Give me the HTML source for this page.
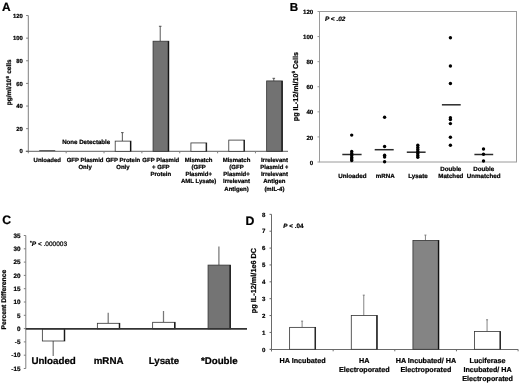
<!DOCTYPE html>
<html><head><meta charset="utf-8"><style>
html,body{margin:0;padding:0;background:#fff;width:520px;height:383px;overflow:hidden}
svg{display:block;will-change:transform;filter:blur(0.35px)}
text{font-family:"Liberation Sans", sans-serif;stroke:#000;stroke-width:0.22px;paint-order:stroke;text-rendering:geometricPrecision}
</style></head><body>
<svg width="520" height="383" viewBox="0 0 520 383">
<defs><clipPath id="clipA"><rect x="0" y="0" width="288.3" height="200"/></clipPath></defs>
<rect width="520" height="383" fill="#fff"/>
<g clip-path="url(#clipA)">
<text x="1.90" y="10.80" font-size="11.9" text-anchor="start" font-weight="bold" font-style="normal" fill="#000" >A</text>
<line x1="28.30" y1="15.52" x2="28.30" y2="153.30" stroke="#7f7f7f" stroke-width="1"/>
<line x1="26.10" y1="151.30" x2="28.30" y2="151.30" stroke="#7f7f7f" stroke-width="1"/>
<text x="22.90" y="153.40" font-size="5.9" text-anchor="end" font-weight="bold" font-style="normal" fill="#000" >0</text>
<line x1="26.10" y1="128.67" x2="28.30" y2="128.67" stroke="#7f7f7f" stroke-width="1"/>
<text x="22.90" y="130.77" font-size="5.9" text-anchor="end" font-weight="bold" font-style="normal" fill="#000" >20</text>
<line x1="26.10" y1="106.04" x2="28.30" y2="106.04" stroke="#7f7f7f" stroke-width="1"/>
<text x="22.90" y="108.14" font-size="5.9" text-anchor="end" font-weight="bold" font-style="normal" fill="#000" >40</text>
<line x1="26.10" y1="83.41" x2="28.30" y2="83.41" stroke="#7f7f7f" stroke-width="1"/>
<text x="22.90" y="85.51" font-size="5.9" text-anchor="end" font-weight="bold" font-style="normal" fill="#000" >60</text>
<line x1="26.10" y1="60.78" x2="28.30" y2="60.78" stroke="#7f7f7f" stroke-width="1"/>
<text x="22.90" y="62.88" font-size="5.9" text-anchor="end" font-weight="bold" font-style="normal" fill="#000" >80</text>
<line x1="26.10" y1="38.15" x2="28.30" y2="38.15" stroke="#7f7f7f" stroke-width="1"/>
<text x="22.90" y="40.25" font-size="5.9" text-anchor="end" font-weight="bold" font-style="normal" fill="#000" >100</text>
<line x1="26.10" y1="15.52" x2="28.30" y2="15.52" stroke="#7f7f7f" stroke-width="1"/>
<text x="22.90" y="17.62" font-size="5.9" text-anchor="end" font-weight="bold" font-style="normal" fill="#000" >120</text>
<line x1="25.80" y1="151.30" x2="288.00" y2="151.30" stroke="#606060" stroke-width="1"/>
<line x1="66.16" y1="151.30" x2="66.16" y2="153.30" stroke="#7f7f7f" stroke-width="1"/>
<line x1="104.02" y1="151.30" x2="104.02" y2="153.30" stroke="#7f7f7f" stroke-width="1"/>
<line x1="141.88" y1="151.30" x2="141.88" y2="153.30" stroke="#7f7f7f" stroke-width="1"/>
<line x1="179.74" y1="151.30" x2="179.74" y2="153.30" stroke="#7f7f7f" stroke-width="1"/>
<line x1="217.60" y1="151.30" x2="217.60" y2="153.30" stroke="#7f7f7f" stroke-width="1"/>
<line x1="255.46" y1="151.30" x2="255.46" y2="153.30" stroke="#7f7f7f" stroke-width="1"/>
<line x1="122.35" y1="141.12" x2="122.35" y2="132.63" stroke="#444" stroke-width="0.9"/>
<line x1="121.05" y1="132.63" x2="123.65" y2="132.63" stroke="#444" stroke-width="0.9"/>
<rect x="115.20" y="141.12" width="15.80" height="10.18" fill="#fff" stroke="#333" stroke-width="0.8"/>
<line x1="130.50" y1="141.12" x2="130.50" y2="151.30" stroke="#111" stroke-width="1.15"/>
<line x1="160.21" y1="41.21" x2="160.21" y2="26.27" stroke="#444" stroke-width="0.9"/>
<line x1="158.91" y1="26.27" x2="161.51" y2="26.27" stroke="#444" stroke-width="0.9"/>
<rect x="153.06" y="41.21" width="15.80" height="110.09" fill="#727272" stroke="#333" stroke-width="0.8"/>
<line x1="168.36" y1="41.21" x2="168.36" y2="151.30" stroke="#111" stroke-width="1.15"/>
<rect x="190.92" y="142.93" width="15.80" height="8.37" fill="#fff" stroke="#333" stroke-width="0.8"/>
<line x1="206.22" y1="142.93" x2="206.22" y2="151.30" stroke="#111" stroke-width="1.15"/>
<rect x="228.78" y="140.10" width="15.80" height="11.20" fill="#fff" stroke="#333" stroke-width="0.8"/>
<line x1="244.08" y1="140.10" x2="244.08" y2="151.30" stroke="#111" stroke-width="1.15"/>
<line x1="273.79" y1="80.92" x2="273.79" y2="78.32" stroke="#444" stroke-width="0.9"/>
<line x1="272.49" y1="78.32" x2="275.09" y2="78.32" stroke="#444" stroke-width="0.9"/>
<rect x="266.64" y="80.92" width="15.80" height="70.38" fill="#727272" stroke="#333" stroke-width="0.8"/>
<line x1="281.94" y1="80.92" x2="281.94" y2="151.30" stroke="#111" stroke-width="1.15"/>
<text x="86.20" y="143.60" font-size="6.15" text-anchor="middle" font-weight="bold" font-style="normal" fill="#000" >None Detectable</text>
<line x1="39.23" y1="150.60" x2="55.23" y2="150.60" stroke="#444" stroke-width="0.9"/>
<text transform="translate(11.1,82.3) rotate(-90)" font-size="6.5" text-anchor="middle" font-weight="bold">pg/ml/10<tspan dy="-2.6" dx="0.3" font-size="4.4">6</tspan><tspan dy="2.6" dx="0.5"> cells</tspan></text>
<text x="47.23" y="161.50" font-size="6.0" text-anchor="middle" font-weight="bold" font-style="normal" fill="#000" >Unloaded</text>
<text x="85.09" y="161.50" font-size="6.0" text-anchor="middle" font-weight="bold" font-style="normal" fill="#000" >GFP Plasmid</text>
<text x="85.09" y="168.83" font-size="6.0" text-anchor="middle" font-weight="bold" font-style="normal" fill="#000" >Only</text>
<text x="122.95" y="161.50" font-size="6.0" text-anchor="middle" font-weight="bold" font-style="normal" fill="#000" >GFP Protein</text>
<text x="122.95" y="168.83" font-size="6.0" text-anchor="middle" font-weight="bold" font-style="normal" fill="#000" >Only</text>
<text x="160.81" y="161.50" font-size="6.0" text-anchor="middle" font-weight="bold" font-style="normal" fill="#000" >GFP Plasmid</text>
<text x="160.81" y="168.83" font-size="6.0" text-anchor="middle" font-weight="bold" font-style="normal" fill="#000" >+ GFP</text>
<text x="160.81" y="176.16" font-size="6.0" text-anchor="middle" font-weight="bold" font-style="normal" fill="#000" >Protein</text>
<text x="198.67" y="161.50" font-size="6.0" text-anchor="middle" font-weight="bold" font-style="normal" fill="#000" >Mismatch</text>
<text x="198.67" y="168.83" font-size="6.0" text-anchor="middle" font-weight="bold" font-style="normal" fill="#000" >(GFP</text>
<text x="198.67" y="176.16" font-size="6.0" text-anchor="middle" font-weight="bold" font-style="normal" fill="#000" >Plasmid+</text>
<text x="198.67" y="183.49" font-size="6.0" text-anchor="middle" font-weight="bold" font-style="normal" fill="#000" >AML Lysate)</text>
<text x="236.53" y="161.50" font-size="6.0" text-anchor="middle" font-weight="bold" font-style="normal" fill="#000" >Mismatch</text>
<text x="236.53" y="168.83" font-size="6.0" text-anchor="middle" font-weight="bold" font-style="normal" fill="#000" >(GFP</text>
<text x="236.53" y="176.16" font-size="6.0" text-anchor="middle" font-weight="bold" font-style="normal" fill="#000" >Plasmid+</text>
<text x="236.53" y="183.49" font-size="6.0" text-anchor="middle" font-weight="bold" font-style="normal" fill="#000" >Irrelevant</text>
<text x="236.53" y="190.82" font-size="6.0" text-anchor="middle" font-weight="bold" font-style="normal" fill="#000" >Antigen)</text>
<text x="274.39" y="161.50" font-size="6.0" text-anchor="middle" font-weight="bold" font-style="normal" fill="#000" >Irrelevant</text>
<text x="274.39" y="168.83" font-size="6.0" text-anchor="middle" font-weight="bold" font-style="normal" fill="#000" >Plasmid +</text>
<text x="274.39" y="176.16" font-size="6.0" text-anchor="middle" font-weight="bold" font-style="normal" fill="#000" >Irrelevant</text>
<text x="274.39" y="183.49" font-size="6.0" text-anchor="middle" font-weight="bold" font-style="normal" fill="#000" >Antigen</text>
<text x="274.39" y="190.82" font-size="6.0" text-anchor="middle" font-weight="bold" font-style="normal" fill="#000" >(mIL-4)</text>
</g>
<text x="289.80" y="10.90" font-size="11.6" text-anchor="start" font-weight="bold" font-style="normal" fill="#000" >B</text>
<rect x="319.5" y="11.5" width="197.0" height="150.5" fill="none" stroke="#9a9a9a" stroke-width="1"/>
<line x1="317.50" y1="162.00" x2="319.50" y2="162.00" stroke="#9a9a9a" stroke-width="1"/>
<text x="313.20" y="164.60" font-size="6.1" text-anchor="end" font-weight="bold" font-style="normal" fill="#000" >0</text>
<line x1="317.50" y1="136.92" x2="319.50" y2="136.92" stroke="#9a9a9a" stroke-width="1"/>
<text x="313.20" y="139.52" font-size="6.1" text-anchor="end" font-weight="bold" font-style="normal" fill="#000" >20</text>
<line x1="317.50" y1="111.83" x2="319.50" y2="111.83" stroke="#9a9a9a" stroke-width="1"/>
<text x="313.20" y="114.43" font-size="6.1" text-anchor="end" font-weight="bold" font-style="normal" fill="#000" >40</text>
<line x1="317.50" y1="86.75" x2="319.50" y2="86.75" stroke="#9a9a9a" stroke-width="1"/>
<text x="313.20" y="89.35" font-size="6.1" text-anchor="end" font-weight="bold" font-style="normal" fill="#000" >60</text>
<line x1="317.50" y1="61.67" x2="319.50" y2="61.67" stroke="#9a9a9a" stroke-width="1"/>
<text x="313.20" y="64.27" font-size="6.1" text-anchor="end" font-weight="bold" font-style="normal" fill="#000" >80</text>
<line x1="317.50" y1="36.58" x2="319.50" y2="36.58" stroke="#9a9a9a" stroke-width="1"/>
<text x="313.20" y="39.18" font-size="6.1" text-anchor="end" font-weight="bold" font-style="normal" fill="#000" >100</text>
<line x1="317.50" y1="11.50" x2="319.50" y2="11.50" stroke="#9a9a9a" stroke-width="1"/>
<text x="313.20" y="14.10" font-size="6.1" text-anchor="end" font-weight="bold" font-style="normal" fill="#000" >120</text>
<text x="325.00" y="21.30" font-size="6.45" text-anchor="start" font-weight="bold" font-style="italic" fill="#000" ><tspan font-style="italic">P</tspan> &lt; .02</text>
<line x1="342.30" y1="154.50" x2="361.60" y2="154.50" stroke="#2a2a2a" stroke-width="1.5"/>
<circle cx="351.70" cy="135.10" r="1.7" fill="#000"/>
<circle cx="351.70" cy="151.50" r="1.7" fill="#000"/>
<circle cx="351.70" cy="153.50" r="1.7" fill="#000"/>
<circle cx="351.70" cy="155.50" r="1.7" fill="#000"/>
<circle cx="351.70" cy="157.50" r="1.7" fill="#000"/>
<circle cx="351.70" cy="159.00" r="1.7" fill="#000"/>
<circle cx="351.70" cy="160.50" r="1.7" fill="#000"/>
<line x1="374.70" y1="149.70" x2="393.70" y2="149.70" stroke="#2a2a2a" stroke-width="1.5"/>
<circle cx="384.60" cy="117.20" r="1.7" fill="#000"/>
<circle cx="384.60" cy="146.50" r="1.7" fill="#000"/>
<circle cx="384.60" cy="155.20" r="1.7" fill="#000"/>
<circle cx="384.60" cy="157.00" r="1.7" fill="#000"/>
<circle cx="384.60" cy="161.70" r="1.7" fill="#000"/>
<line x1="406.80" y1="152.20" x2="425.60" y2="152.20" stroke="#2a2a2a" stroke-width="1.5"/>
<circle cx="417.80" cy="145.30" r="1.7" fill="#000"/>
<circle cx="417.80" cy="147.50" r="1.7" fill="#000"/>
<circle cx="417.80" cy="149.50" r="1.7" fill="#000"/>
<circle cx="417.80" cy="151.50" r="1.7" fill="#000"/>
<circle cx="417.80" cy="153.50" r="1.7" fill="#000"/>
<circle cx="417.80" cy="155.50" r="1.7" fill="#000"/>
<circle cx="417.80" cy="157.30" r="1.7" fill="#000"/>
<line x1="441.90" y1="104.80" x2="460.70" y2="104.80" stroke="#2a2a2a" stroke-width="1.5"/>
<circle cx="450.40" cy="37.80" r="1.7" fill="#000"/>
<circle cx="450.40" cy="66.00" r="1.7" fill="#000"/>
<circle cx="450.40" cy="83.50" r="1.7" fill="#000"/>
<circle cx="450.40" cy="117.80" r="1.7" fill="#000"/>
<circle cx="450.40" cy="119.60" r="1.7" fill="#000"/>
<circle cx="450.40" cy="123.60" r="1.7" fill="#000"/>
<circle cx="450.40" cy="137.30" r="1.7" fill="#000"/>
<circle cx="450.40" cy="145.20" r="1.7" fill="#000"/>
<line x1="474.40" y1="154.50" x2="493.20" y2="154.50" stroke="#2a2a2a" stroke-width="1.5"/>
<circle cx="483.50" cy="149.00" r="1.7" fill="#000"/>
<circle cx="483.50" cy="154.30" r="1.7" fill="#000"/>
<circle cx="483.50" cy="161.00" r="1.7" fill="#000"/>
<text x="352.33" y="177.50" font-size="6.2" text-anchor="middle" font-weight="bold" font-style="normal" fill="#000" >Unloaded</text>
<text x="385.17" y="177.50" font-size="6.2" text-anchor="middle" font-weight="bold" font-style="normal" fill="#000" >mRNA</text>
<text x="418.00" y="177.50" font-size="6.2" text-anchor="middle" font-weight="bold" font-style="normal" fill="#000" >Lysate</text>
<text x="450.83" y="171.20" font-size="6.2" text-anchor="middle" font-weight="bold" font-style="normal" fill="#000" >Double</text>
<text x="450.83" y="177.50" font-size="6.2" text-anchor="middle" font-weight="bold" font-style="normal" fill="#000" >Matched</text>
<text x="483.67" y="171.20" font-size="6.2" text-anchor="middle" font-weight="bold" font-style="normal" fill="#000" >Double</text>
<text x="483.67" y="177.50" font-size="6.2" text-anchor="middle" font-weight="bold" font-style="normal" fill="#000" >Unmatched</text>
<text transform="translate(298.0,86.6) rotate(-90)" font-size="7.15" text-anchor="middle" font-weight="bold">pg IL-12/ml/10<tspan dy="-2.7" font-size="4.6">6</tspan><tspan dy="2.7"> Cells</tspan></text>
<text x="2.30" y="223.70" font-size="12.3" text-anchor="start" font-weight="bold" font-style="normal" fill="#000" >C</text>
<line x1="25.80" y1="235.50" x2="25.80" y2="368.50" stroke="#7f7f7f" stroke-width="1"/>
<line x1="23.80" y1="368.50" x2="25.80" y2="368.50" stroke="#7f7f7f" stroke-width="1"/>
<text x="20.40" y="370.70" font-size="6.3" text-anchor="end" font-weight="bold" font-style="normal" fill="#000" >-15</text>
<line x1="23.80" y1="355.20" x2="25.80" y2="355.20" stroke="#7f7f7f" stroke-width="1"/>
<text x="20.40" y="357.40" font-size="6.3" text-anchor="end" font-weight="bold" font-style="normal" fill="#000" >-10</text>
<line x1="23.80" y1="341.90" x2="25.80" y2="341.90" stroke="#7f7f7f" stroke-width="1"/>
<text x="20.40" y="344.10" font-size="6.3" text-anchor="end" font-weight="bold" font-style="normal" fill="#000" >-5</text>
<line x1="23.80" y1="328.60" x2="25.80" y2="328.60" stroke="#7f7f7f" stroke-width="1"/>
<text x="20.40" y="330.80" font-size="6.3" text-anchor="end" font-weight="bold" font-style="normal" fill="#000" >0</text>
<line x1="23.80" y1="315.30" x2="25.80" y2="315.30" stroke="#7f7f7f" stroke-width="1"/>
<text x="20.40" y="317.50" font-size="6.3" text-anchor="end" font-weight="bold" font-style="normal" fill="#000" >5</text>
<line x1="23.80" y1="302.00" x2="25.80" y2="302.00" stroke="#7f7f7f" stroke-width="1"/>
<text x="20.40" y="304.20" font-size="6.3" text-anchor="end" font-weight="bold" font-style="normal" fill="#000" >10</text>
<line x1="23.80" y1="288.70" x2="25.80" y2="288.70" stroke="#7f7f7f" stroke-width="1"/>
<text x="20.40" y="290.90" font-size="6.3" text-anchor="end" font-weight="bold" font-style="normal" fill="#000" >15</text>
<line x1="23.80" y1="275.40" x2="25.80" y2="275.40" stroke="#7f7f7f" stroke-width="1"/>
<text x="20.40" y="277.60" font-size="6.3" text-anchor="end" font-weight="bold" font-style="normal" fill="#000" >20</text>
<line x1="23.80" y1="262.10" x2="25.80" y2="262.10" stroke="#7f7f7f" stroke-width="1"/>
<text x="20.40" y="264.30" font-size="6.3" text-anchor="end" font-weight="bold" font-style="normal" fill="#000" >25</text>
<line x1="23.80" y1="248.80" x2="25.80" y2="248.80" stroke="#7f7f7f" stroke-width="1"/>
<text x="20.40" y="251.00" font-size="6.3" text-anchor="end" font-weight="bold" font-style="normal" fill="#000" >30</text>
<line x1="23.80" y1="235.50" x2="25.80" y2="235.50" stroke="#7f7f7f" stroke-width="1"/>
<text x="20.40" y="237.70" font-size="6.3" text-anchor="end" font-weight="bold" font-style="normal" fill="#000" >35</text>
<line x1="53.20" y1="341.00" x2="53.20" y2="355.90" stroke="#777" stroke-width="1.25"/>
<rect x="42.35" y="328.90" width="22.50" height="12.10" fill="#fff" stroke="#333" stroke-width="0.8"/>
<line x1="64.35" y1="328.90" x2="64.35" y2="341.00" stroke="#111" stroke-width="1.15"/>
<line x1="108.20" y1="323.30" x2="108.20" y2="312.80" stroke="#777" stroke-width="1.25"/>
<rect x="97.35" y="323.30" width="22.50" height="5.60" fill="#fff" stroke="#333" stroke-width="0.8"/>
<line x1="119.35" y1="323.30" x2="119.35" y2="328.90" stroke="#111" stroke-width="1.15"/>
<line x1="163.50" y1="322.30" x2="163.50" y2="311.00" stroke="#777" stroke-width="1.25"/>
<rect x="152.65" y="322.30" width="22.50" height="6.60" fill="#fff" stroke="#333" stroke-width="0.8"/>
<line x1="174.65" y1="322.30" x2="174.65" y2="328.90" stroke="#111" stroke-width="1.15"/>
<line x1="218.90" y1="265.10" x2="218.90" y2="246.50" stroke="#777" stroke-width="1.25"/>
<rect x="208.05" y="265.10" width="22.50" height="63.80" fill="#747474" stroke="#333" stroke-width="0.8"/>
<line x1="230.05" y1="265.10" x2="230.05" y2="328.90" stroke="#111" stroke-width="1.15"/>
<line x1="25.80" y1="328.90" x2="247.00" y2="328.90" stroke="#333" stroke-width="1.9"/>
<text x="53.60" y="363.80" font-size="9.75" text-anchor="middle" font-weight="bold" font-style="normal" fill="#000" >Unloaded</text>
<text x="108.60" y="363.80" font-size="9.75" text-anchor="middle" font-weight="bold" font-style="normal" fill="#000" >mRNA</text>
<text x="163.90" y="363.80" font-size="9.75" text-anchor="middle" font-weight="bold" font-style="normal" fill="#000" >Lysate</text>
<text x="219.30" y="363.80" font-size="9.75" text-anchor="middle" font-weight="bold" font-style="normal" fill="#000" >*Double</text>
<text x="30.00" y="245.60" font-size="6.5" text-anchor="start" font-weight="normal" font-style="normal" fill="#000" ><tspan font-size="4.5" dy="-1.5" font-weight="bold">*</tspan><tspan dy="1.5" font-style="italic" font-weight="bold">P</tspan> &lt; .000003</text>
<text transform="translate(6.3,299.6) rotate(-90)" font-size="6.75" text-anchor="middle" font-weight="bold">Percent Difference</text>
<text x="245.40" y="224.60" font-size="12.3" text-anchor="start" font-weight="bold" font-style="normal" fill="#000" >D</text>
<line x1="271.50" y1="214.34" x2="271.50" y2="351.50" stroke="#6a6a6a" stroke-width="1"/>
<line x1="269.50" y1="349.30" x2="271.50" y2="349.30" stroke="#6a6a6a" stroke-width="1"/>
<text x="265.40" y="351.50" font-size="6.1" text-anchor="end" font-weight="bold" font-style="normal" fill="#000" >0</text>
<line x1="269.50" y1="332.43" x2="271.50" y2="332.43" stroke="#6a6a6a" stroke-width="1"/>
<text x="265.40" y="334.63" font-size="6.1" text-anchor="end" font-weight="bold" font-style="normal" fill="#000" >1</text>
<line x1="269.50" y1="315.56" x2="271.50" y2="315.56" stroke="#6a6a6a" stroke-width="1"/>
<text x="265.40" y="317.76" font-size="6.1" text-anchor="end" font-weight="bold" font-style="normal" fill="#000" >2</text>
<line x1="269.50" y1="298.69" x2="271.50" y2="298.69" stroke="#6a6a6a" stroke-width="1"/>
<text x="265.40" y="300.89" font-size="6.1" text-anchor="end" font-weight="bold" font-style="normal" fill="#000" >3</text>
<line x1="269.50" y1="281.82" x2="271.50" y2="281.82" stroke="#6a6a6a" stroke-width="1"/>
<text x="265.40" y="284.02" font-size="6.1" text-anchor="end" font-weight="bold" font-style="normal" fill="#000" >4</text>
<line x1="269.50" y1="264.95" x2="271.50" y2="264.95" stroke="#6a6a6a" stroke-width="1"/>
<text x="265.40" y="267.15" font-size="6.1" text-anchor="end" font-weight="bold" font-style="normal" fill="#000" >5</text>
<line x1="269.50" y1="248.08" x2="271.50" y2="248.08" stroke="#6a6a6a" stroke-width="1"/>
<text x="265.40" y="250.28" font-size="6.1" text-anchor="end" font-weight="bold" font-style="normal" fill="#000" >6</text>
<line x1="269.50" y1="231.21" x2="271.50" y2="231.21" stroke="#6a6a6a" stroke-width="1"/>
<text x="265.40" y="233.41" font-size="6.1" text-anchor="end" font-weight="bold" font-style="normal" fill="#000" >7</text>
<line x1="269.50" y1="214.34" x2="271.50" y2="214.34" stroke="#6a6a6a" stroke-width="1"/>
<text x="265.40" y="216.54" font-size="6.1" text-anchor="end" font-weight="bold" font-style="normal" fill="#000" >8</text>
<line x1="270.00" y1="349.50" x2="518.00" y2="349.50" stroke="#6a6a6a" stroke-width="1"/>
<line x1="333.15" y1="349.30" x2="333.15" y2="351.30" stroke="#6a6a6a" stroke-width="1"/>
<line x1="394.80" y1="349.30" x2="394.80" y2="351.30" stroke="#6a6a6a" stroke-width="1"/>
<line x1="456.45" y1="349.30" x2="456.45" y2="351.30" stroke="#6a6a6a" stroke-width="1"/>
<line x1="518.10" y1="349.30" x2="518.10" y2="351.30" stroke="#6a6a6a" stroke-width="1"/>
<line x1="302.12" y1="327.37" x2="302.12" y2="321.13" stroke="#777" stroke-width="0.9"/>
<line x1="301.12" y1="321.13" x2="303.12" y2="321.13" stroke="#777" stroke-width="0.9"/>
<rect x="289.62" y="327.37" width="26.00" height="21.93" fill="#fff" stroke="#333" stroke-width="0.8"/>
<line x1="315.12" y1="327.37" x2="315.12" y2="349.30" stroke="#111" stroke-width="1.15"/>
<line x1="363.78" y1="315.56" x2="363.78" y2="295.15" stroke="#777" stroke-width="0.9"/>
<line x1="362.78" y1="295.15" x2="364.78" y2="295.15" stroke="#777" stroke-width="0.9"/>
<rect x="351.28" y="315.56" width="26.00" height="33.74" fill="#fff" stroke="#333" stroke-width="0.8"/>
<line x1="376.78" y1="315.56" x2="376.78" y2="349.30" stroke="#111" stroke-width="1.15"/>
<line x1="425.43" y1="240.40" x2="425.43" y2="235.09" stroke="#777" stroke-width="0.9"/>
<line x1="424.43" y1="235.09" x2="426.43" y2="235.09" stroke="#777" stroke-width="0.9"/>
<rect x="412.93" y="240.40" width="26.00" height="108.90" fill="#848484" stroke="#333" stroke-width="0.8"/>
<line x1="438.43" y1="240.40" x2="438.43" y2="349.30" stroke="#111" stroke-width="1.15"/>
<line x1="487.07" y1="331.59" x2="487.07" y2="319.78" stroke="#777" stroke-width="0.9"/>
<line x1="486.07" y1="319.78" x2="488.07" y2="319.78" stroke="#777" stroke-width="0.9"/>
<rect x="474.57" y="331.59" width="26.00" height="17.71" fill="#fff" stroke="#333" stroke-width="0.8"/>
<line x1="500.07" y1="331.59" x2="500.07" y2="349.30" stroke="#111" stroke-width="1.15"/>
<text x="283.30" y="227.70" font-size="6.3" text-anchor="start" font-weight="bold" font-style="normal" fill="#000" ><tspan font-style="italic">P</tspan> &lt; .04</text>
<text x="302.62" y="362.60" font-size="7.2" text-anchor="middle" font-weight="bold" font-style="normal" fill="#000" >HA Incubated</text>
<text x="364.28" y="362.60" font-size="7.2" text-anchor="middle" font-weight="bold" font-style="normal" fill="#000" >HA</text>
<text x="364.28" y="371.90" font-size="7.2" text-anchor="middle" font-weight="bold" font-style="normal" fill="#000" >Electroporated</text>
<text x="425.93" y="362.60" font-size="7.2" text-anchor="middle" font-weight="bold" font-style="normal" fill="#000" >HA Incubated/ HA</text>
<text x="425.93" y="371.90" font-size="7.2" text-anchor="middle" font-weight="bold" font-style="normal" fill="#000" >Electroporated</text>
<text x="487.57" y="362.60" font-size="7.2" text-anchor="middle" font-weight="bold" font-style="normal" fill="#000" >Luciferase</text>
<text x="487.57" y="371.90" font-size="7.2" text-anchor="middle" font-weight="bold" font-style="normal" fill="#000" >Incubated/ HA</text>
<text x="487.57" y="381.20" font-size="7.2" text-anchor="middle" font-weight="bold" font-style="normal" fill="#000" >Electroporated</text>
<text transform="translate(255.8,280.5) rotate(-90)" font-size="7.3" text-anchor="middle" font-weight="bold">pg IL-12/ml/1e6 DC</text>
</svg>
</body></html>
